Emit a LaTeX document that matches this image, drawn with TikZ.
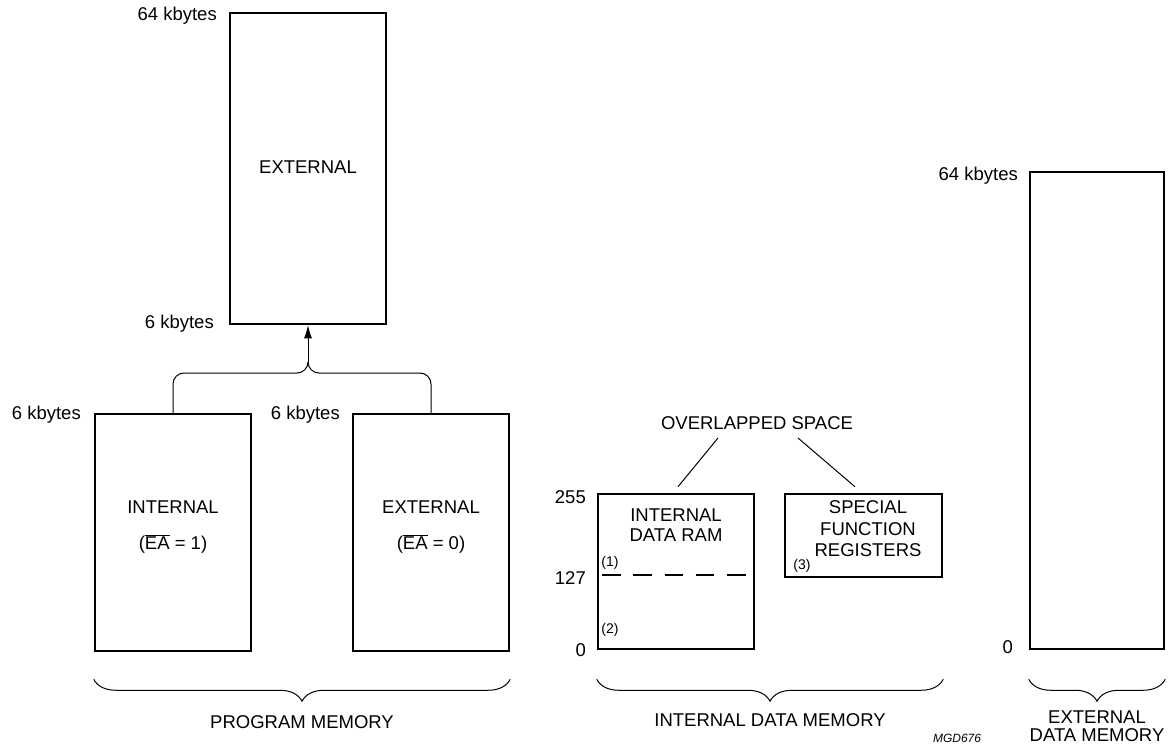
\documentclass[tikz,border=0pt]{standalone}
\usepackage{fontspec}
\setmainfont{Liberation Sans}
\usetikzlibrary{arrows.meta}
\usetikzlibrary{decorations.pathreplacing}
\usetikzlibrary{calc}
\tikzstyle{MemBox}=[rectangle, draw=black, line width=2.5pt, inner sep=0pt]
\tikzstyle{BoxText}=[inner sep=0pt, align=center, font=\fontsize{18.5}{21}\selectfont]
\tikzstyle{AddrText}=[BoxText, anchor=east]
\tikzstyle{NoteText}=[inner sep=0pt, font=\fontsize{14}{16}\selectfont]
\tikzstyle{Link}=[line width=1pt]
\tikzstyle{LinkArrow}=[Link, -{Latex[length=13pt,width=8pt]}]
\tikzstyle{MemBrace}=[line width=1pt, decorate, decoration={brace, mirror, amplitude=22pt}]
\tikzstyle{SplitLine}=[line width=2pt, dash pattern=on 18.5pt off 12.8pt]

\begin{document}
\begin{tikzpicture}[x=1pt, y=-1pt]
\useasboundingbox (0,0) rectangle (1172,751);

\node[MemBox, minimum width=156pt, minimum height=311pt](ExtProg) at (308,168.5) {};
\node[MemBox, minimum width=156pt, minimum height=237pt](IntProg) at (173,532.5) {};
\node[MemBox, minimum width=156pt, minimum height=237pt](ExtAlt) at (431,532.5) {};
\node[MemBox, minimum width=156pt, minimum height=155pt](DataRam) at (676,571.5) {};
\node[MemBox, minimum width=157pt, minimum height=83pt](SfrBox) at (863.5,535.5) {};
\node[MemBox, minimum width=134pt, minimum height=477pt](ExtData) at (1097,410.5) {};

\node[BoxText](ExtProgName) at (308,167) {EXTERNAL};
\node[BoxText](IntProgName) at (173,507) {INTERNAL};
\node[BoxText](IntProgEA) at (173,544) {($\overline{\hbox{EA}}$ = 1)};
\node[BoxText](ExtAltName) at (431,507) {EXTERNAL};
\node[BoxText](ExtAltEA) at (431,544) {($\overline{\hbox{EA}}$ = 0)};
\node[BoxText, font=\fontsize{18.5}{20}\selectfont](DataRamName) at (676,525) {INTERNAL\\DATA RAM};
\node[BoxText, font=\fontsize{18.5}{21.5}\selectfont](SfrName) at (868,529) {SPECIAL\\FUNCTION\\REGISTERS};

\node[AddrText](ExtProgTop) at (217,16) {64 kbytes};
\node[AddrText](ExtProgBot) at (214,324) {6 kbytes};
\node[AddrText](IntProgTop) at (81,415) {6 kbytes};
\node[AddrText](ExtAltTop) at (340,415) {6 kbytes};
\node[AddrText](RamTop) at (586,497) {255};
\node[AddrText](RamMid) at (586,578) {127};
\node[AddrText](RamBot) at (586,650) {0};
\node[AddrText](ExtDataTop) at (1018,176) {64 kbytes};
\node[AddrText](ExtDataBot) at (1013,647) {0};

\node[NoteText](NoteOne) at (610,563) {(1)};
\node[NoteText](NoteTwo) at (610,630) {(2)};
\node[NoteText](NoteThree) at (802,566) {(3)};

\node[BoxText](Overlap) at (757,423) {OVERLAPPED SPACE};
\draw[Link]([xshift=-39pt,yshift=-15pt]Overlap.center) -- ([xshift=2pt,yshift=6pt]DataRam.north);
\draw[Link]([xshift=41pt,yshift=-15pt]Overlap.center) -- ([xshift=-8.5pt,yshift=6pt]SfrBox.north);

\draw[SplitLine](602,575) -- (746.3,575);

\coordinate(Join) at (308,362);
\draw[Link, rounded corners=11pt](IntProg.north) |- ($(Join)+(0,11)$) -- (Join);
\draw[Link, rounded corners=11pt](ExtAlt.north) |- ($(Join)+(0,11)$) -- (Join);
\draw[LinkArrow](Join) -- (ExtProg.south);

\draw[MemBrace]([yshift=-27pt]IntProg.south west) -- ([yshift=-27pt]ExtAlt.south east);
\draw[MemBrace]($(DataRam.south west)+(0,29)$) -- ($(DataRam.south -| SfrBox.east)+(0,29)$);
\draw[MemBrace]($(ExtData.south west)+(0,29)$) -- ($(ExtData.south east)+(0,29)$);

\node[BoxText](ProgLabel) at (302,722) {PROGRAM MEMORY};
\node[BoxText](IntDataLabel) at (770,720) {INTERNAL DATA MEMORY};
\node[BoxText, font=\fontsize{18.5}{18}\selectfont](ExtDataLabel) at (1097,726) {EXTERNAL\\DATA MEMORY};
\node[inner sep=0pt, font=\fontsize{12}{14}\selectfont\itshape](FigCode) at (957,738) {MGD676};
\end{tikzpicture}
\end{document}
